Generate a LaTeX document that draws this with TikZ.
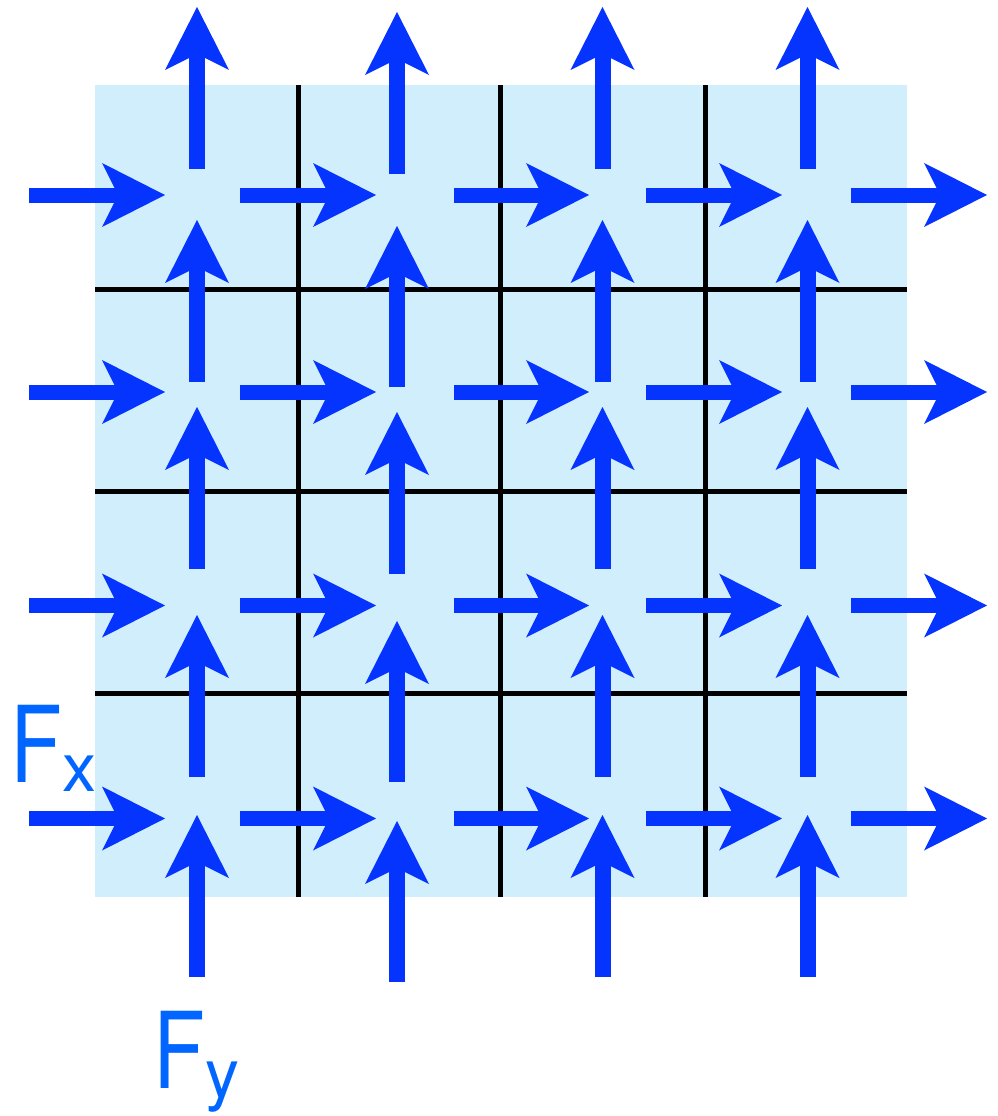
\documentclass[tikz,border=0pt]{standalone}
\usepackage{fontspec}
\setmainfont{TeX Gyre Heros}
\definecolor{arrowblue}{RGB}{5,52,255}
\definecolor{cellblue}{RGB}{208,238,252}
\definecolor{labelblue}{RGB}{0,102,255}
\newcommand\myharrow[3]{% start x, tip x, y
  \fill[arrowblue] ({#1},{#3-7.5}) rectangle ({#2-40},{#3+7.5});
  \fill[arrowblue] ({#2},{#3}) -- ({#2-63},{#3-32}) -- ({#2-47},{#3}) -- ({#2-63},{#3+32}) -- cycle;}
\newcommand\myvarrow[3]{% x, bottom y, tip y
  \fill[arrowblue] ({#1-8},{#2}) rectangle ({#1+8},{#3+40});
  \fill[arrowblue] ({#1},{#3}) -- ({#1-32},{#3+63}) -- ({#1},{#3+47}) -- ({#1+32},{#3+63}) -- cycle;}
\begin{document}
\begin{tikzpicture}[x=1pt,y=-1pt,
  gridline/.style={black,line width=5pt},
  lbl/.style={anchor=base west,inner sep=0pt,text=labelblue}]
\useasboundingbox (0,0) rectangle (998,1116);
% background square
\fill[cellblue] (95,85) rectangle (907,897);
% grid lines
\foreach \gx in {298,500,705} \draw[gridline] (\gx,85) -- (\gx,897);
\foreach \gy in {289,491,693} \draw[gridline] (95,\gy) -- (907,\gy);
% horizontal arrows
\foreach \ry in {195,392,605.5,818.5}{
  \myharrow{29}{165}{\ry}
  \myharrow{240}{376}{\ry}
  \myharrow{454}{589}{\ry}
  \myharrow{646}{782}{\ry}
  \myharrow{851}{987}{\ry}
}
% vertical arrows
\foreach \cx in {197,602.5,807.5}{
  \myvarrow{\cx}{169}{7}
  \myvarrow{\cx}{382}{220}
  \myvarrow{\cx}{569}{407}
  \myvarrow{\cx}{777}{615}
  \myvarrow{\cx}{977}{815}
}
\myvarrow{397}{174}{12}
\myvarrow{397}{387}{226}
\myvarrow{397}{574}{412}
\myvarrow{397}{782}{621}
\myvarrow{397}{982}{821}
% labels
\node[lbl] (fx) at (10.3,782) {\fontsize{106}{106}\selectfont\scalebox{0.8}[1]{F}\raisebox{-9pt}{\fontsize{68}{68}\selectfont x}};
\node[lbl] (fy) at (153.3,1088) {\fontsize{106}{106}\selectfont\scalebox{0.8}[1]{F}\raisebox{-9pt}{\fontsize{68}{68}\selectfont y}};
\end{tikzpicture}
\end{document}
